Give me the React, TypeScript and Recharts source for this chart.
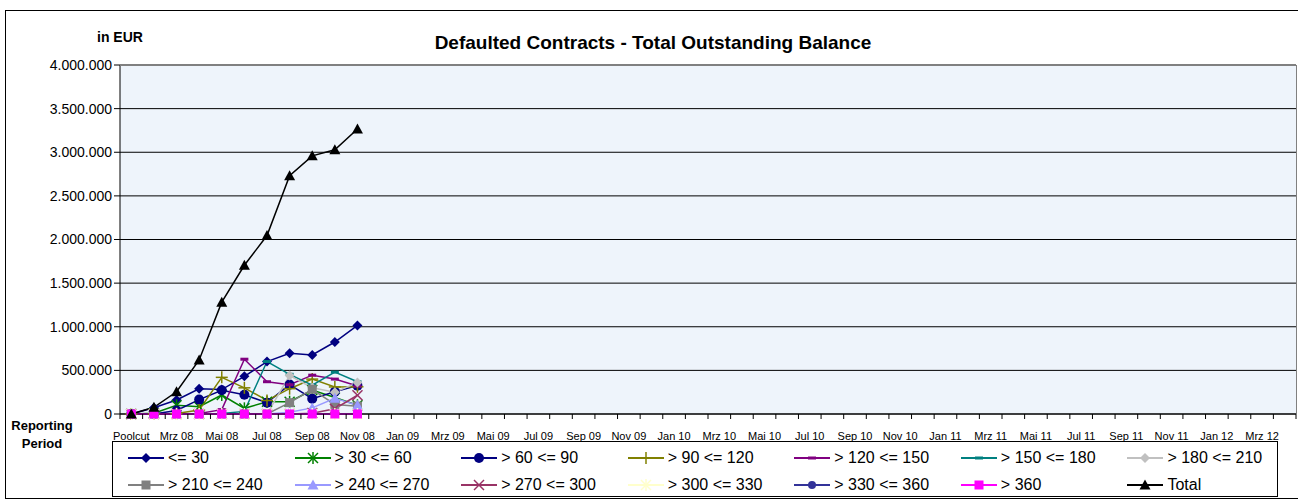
import React from "react";
import { LineChart, Line, XAxis, YAxis, CartesianGrid } from "recharts";

const months = [
  "Poolcut", "Feb 08", "Mrz 08", "Apr 08", "Mai 08", "Jun 08", "Jul 08", "Aug 08", "Sep 08", "Okt 08", "Nov 08", "Dez 08",
  "Jan 09", "Feb 09", "Mrz 09", "Apr 09", "Mai 09", "Jun 09", "Jul 09", "Aug 09", "Sep 09", "Okt 09", "Nov 09", "Dez 09",
  "Jan 10", "Feb 10", "Mrz 10", "Apr 10", "Mai 10", "Jun 10", "Jul 10", "Aug 10", "Sep 10", "Okt 10", "Nov 10", "Dez 10",
  "Jan 11", "Feb 11", "Mrz 11", "Apr 11", "Mai 11", "Jun 11", "Jul 11", "Aug 11", "Sep 11", "Okt 11", "Nov 11", "Dez 11",
  "Jan 12", "Feb 12", "Mrz 12", "Apr 12",
];

// outstanding balance per bucket (days past due), Poolcut .. Nov 08
const upTo30 = [0, 72000, 161000, 289000, 280000, 432000, 601000, 696000, 677000, 825000, 1015000];
const d30to60 = [0, 8000, 100000, 84000, 218000, 65000, 141000, 141000, 275000, 190000, 100000];
const d60to90 = [0, 0, 40000, 165000, 272000, 220000, 130000, 337000, 176000, 256000, 325000];
const d90to120 = [0, 0, 5000, 46000, 420000, 300000, 155000, 290000, 400000, 310000, 312000];
const d120to150 = [0, 0, 0, 5000, 50000, 628000, 370000, 335000, 445000, 400000, 320000];
const d150to180 = [0, 0, 0, 0, 5000, 30000, 601000, 455000, 330000, 480000, 370000];
const d180to210 = [0, 0, 0, 0, 0, 0, 0, 440000, 300000, 250000, 360000];
const d210to240 = [0, 0, 0, 0, 0, 0, 0, 130000, 283000, 110000, 90000];
const d240to270 = [0, 0, 0, 0, 0, 0, 0, 20000, 70000, 180000, 100000];
const d270to300 = [0, 0, 0, 0, 0, 0, 0, 0, 10000, 60000, 215000];
const d300to330 = [0, 0, 0, 0, 0, 0, 0, 0, 0, 0, 0];
const d330to360 = [0, 0, 0, 0, 0, 0, 0, 0, 0, 0, 0];
const over360 = [0, 0, 0, 0, 0, 0, 0, 0, 0, 0, 0];
const total = [0, 77000, 255000, 620000, 1282000, 1705000, 2045000, 2731000, 2959000, 3028000, 3266000];

const yTicks = [0, 500000, 1000000, 1500000, 2000000, 2500000, 3000000, 3500000, 4000000];

type Shape = "diamond" | "star" | "circle" | "bigcircle" | "plus" | "dash" | "square" | "triangle" | "x";

const series: { key: string; name: string; values: number[]; color: string; shape: Shape }[] = [
  { key: "b1", name: "<= 30", values: upTo30, color: "#000080", shape: "diamond" },
  { key: "b2", name: "> 30 <= 60", values: d30to60, color: "#008000", shape: "star" },
  { key: "b3", name: "> 60 <= 90", values: d60to90, color: "#000080", shape: "bigcircle" },
  { key: "b4", name: "> 90 <= 120", values: d90to120, color: "#808000", shape: "plus" },
  { key: "b5", name: "> 120 <= 150", values: d120to150, color: "#800080", shape: "dash" },
  { key: "b6", name: "> 150 <= 180", values: d150to180, color: "#008080", shape: "dash" },
  { key: "b7", name: "> 180 <= 210", values: d180to210, color: "#C0C0C0", shape: "diamond" },
  { key: "b8", name: "> 210 <= 240", values: d210to240, color: "#808080", shape: "square" },
  { key: "b9", name: "> 240 <= 270", values: d240to270, color: "#9999FF", shape: "triangle" },
  { key: "b10", name: "> 270 <= 300", values: d270to300, color: "#993366", shape: "x" },
  { key: "b11", name: "> 300 <= 330", values: d300to330, color: "#FFFFCC", shape: "star" },
  { key: "b12", name: "> 330 <= 360", values: d330to360, color: "#333399", shape: "circle" },
  { key: "b13", name: "> 360", values: over360, color: "#FF00FF", shape: "square" },
  { key: "total", name: "Total", values: total, color: "#000000", shape: "triangle" },
];

const data = months.map((m, i) => {
  const row: Record<string, string | number | null> = { month: m };
  series.forEach((s) => {
    row[s.key] = i < s.values.length ? s.values[i] : null;
  });
  return row;
});

const W = 1298;
const H = 504;
const PLOT_LEFT = 120;
const PLOT_TOP = 65;
const PLOT_RIGHT = 1296;
const PLOT_BOTTOM = 414;
const BAND = (PLOT_RIGHT - PLOT_LEFT) / months.length;
const FONT = "'Liberation Sans', Arial, sans-serif";

function Marker({ shape, color, cx, cy }: { shape: Shape; color: string; cx: number; cy: number }) {
  switch (shape) {
    case "diamond":
      return <polygon points={`${cx},${cy - 5} ${cx + 5},${cy} ${cx},${cy + 5} ${cx - 5},${cy}`} fill={color} />;
    case "circle":
      return <circle cx={cx} cy={cy} r={4} fill={color} />;
    case "bigcircle":
      return <circle cx={cx} cy={cy} r={5} fill={color} />;
    case "square":
      return <rect x={cx - 4.5} y={cy - 4.5} width={9} height={9} fill={color} />;
    case "triangle":
      return <polygon points={`${cx},${cy - 5.5} ${cx + 5.5},${cy + 4.5} ${cx - 5.5},${cy + 4.5}`} fill={color} />;
    case "plus":
      return (
        <g stroke={color} strokeWidth={1.5}>
          <line x1={cx - 6} x2={cx + 6} y1={cy} y2={cy} />
          <line x1={cx} x2={cx} y1={cy - 6} y2={cy + 6} />
        </g>
      );
    case "x":
      return (
        <g stroke={color} strokeWidth={1.5}>
          <line x1={cx - 5} x2={cx + 5} y1={cy - 5} y2={cy + 5} />
          <line x1={cx - 5} x2={cx + 5} y1={cy + 5} y2={cy - 5} />
        </g>
      );
    case "star":
      return (
        <g stroke={color} strokeWidth={1.5}>
          <line x1={cx - 5} x2={cx + 5} y1={cy - 5} y2={cy + 5} />
          <line x1={cx - 5} x2={cx + 5} y1={cy + 5} y2={cy - 5} />
          <line x1={cx} x2={cx} y1={cy - 6} y2={cy + 6} />
        </g>
      );
    case "dash":
      return <line x1={cx - 4} x2={cx + 4} y1={cy} y2={cy} stroke={color} strokeWidth={3} />;
  }
  return null;
}

function XTick(props: any) {
  const { x, payload, index } = props;
  const left = x - BAND / 2;
  return (
    <g>
      <line x1={left} x2={left} y1={PLOT_BOTTOM} y2={PLOT_BOTTOM + 5} stroke="#000" />
      {index === months.length - 1 && (
        <line x1={x + BAND / 2} x2={x + BAND / 2} y1={PLOT_BOTTOM} y2={PLOT_BOTTOM + 5} stroke="#000" />
      )}
      {index % 2 === 0 && (
        <text x={x} y={PLOT_BOTTOM + 26} textAnchor="middle" fontSize={11} fontFamily={FONT} fill="#000">
          {payload.value}
        </text>
      )}
    </g>
  );
}

const fmt = (v: number) => String(v).replace(/\B(?=(\d{3})+(?!\d))/g, ".");

function Legend() {
  const colW = 1166 / 7;
  return (
    <div
      style={{
        position: "absolute",
        left: 112,
        top: 441,
        width: 1166,
        height: 56,
        border: "1px solid #000",
        boxSizing: "border-box",
        fontFamily: FONT,
        fontSize: 16,
      }}
    >
      {series.map((s, i) => {
        const col = i % 7;
        const row = Math.floor(i / 7);
        return (
          <div
            key={s.key}
            style={{
              position: "absolute",
              left: 15 + col * colW,
              top: 7 + row * 27,
              height: 18,
              display: "flex",
              alignItems: "center",
              whiteSpace: "nowrap",
            }}
          >
            <svg width={36} height={14} style={{ marginRight: 4 }}>
              <line x1={0} x2={36} y1={7} y2={7} stroke={s.color} strokeWidth={2} />
              <Marker shape={s.shape} color={s.color} cx={18} cy={7} />
            </svg>
            <span>{s.name}</span>
          </div>
        );
      })}
    </div>
  );
}

export default function App() {
  return (
    <div style={{ position: "absolute", left: 0, top: 0, width: W, height: H, background: "#fff", overflow: "hidden" }}>
      <div
        style={{
          position: "absolute",
          left: 5,
          top: 10,
          width: 1310,
          height: 489,
          border: "1px solid #000",
          boxSizing: "border-box",
        }}
      />
      <LineChart
        width={W}
        height={H}
        data={data}
        margin={{ top: PLOT_TOP, right: W - PLOT_RIGHT, bottom: H - PLOT_BOTTOM - 30, left: 0 }}
        style={{ position: "absolute", left: 0, top: 0 }}
      >
        <CartesianGrid vertical={false} stroke="#000" fill="#EEF4FB" fillOpacity={1} />
        <XAxis
          dataKey="month"
          scale="band"
          interval={0}
          height={30}
          tickLine={false}
          axisLine={{ stroke: "#000" }}
          tick={<XTick />}
        />
        <YAxis
          width={PLOT_LEFT}
          domain={[0, 4000000]}
          ticks={yTicks}
          tickFormatter={fmt}
          tickSize={6}
          tickMargin={2}
          axisLine={{ stroke: "#000" }}
          tickLine={{ stroke: "#000" }}
          tick={{ fontSize: 14, fill: "#000", fontFamily: FONT }}
        />
        {series.map((s) => (
          <Line
            key={s.key}
            dataKey={s.key}
            name={s.name}
            stroke={s.color}
            strokeWidth={1.5}
            isAnimationActive={false}
            connectNulls={false}
            dot={(p: any) =>
              p.cy == null || p.cx == null ? (
                <g key={`${s.key}-${p.index}`} />
              ) : (
                <Marker key={`${s.key}-${p.index}`} shape={s.shape} color={s.color} cx={p.cx} cy={p.cy} />
              )
            }
            activeDot={false}
          />
        ))}
      </LineChart>
      <div
        style={{
          position: "absolute",
          left: PLOT_LEFT,
          top: PLOT_TOP,
          width: PLOT_RIGHT - PLOT_LEFT + 1,
          height: PLOT_BOTTOM - PLOT_TOP,
          borderTop: "1px solid #808080",
          borderRight: "1px solid #808080",
          boxSizing: "border-box",
          pointerEvents: "none",
        }}
      />
      <div style={{ position: "absolute", left: 97, top: 29, fontFamily: FONT, fontWeight: "bold", fontSize: 14 }}>
        in EUR
      </div>
      <div
        style={{
          position: "absolute",
          left: 0,
          width: 1306,
          top: 32,
          textAlign: "center",
          fontFamily: FONT,
          fontWeight: "bold",
          fontSize: 19,
        }}
      >
        Defaulted Contracts - Total Outstanding Balance
      </div>
      <div
        style={{
          position: "absolute",
          left: 2,
          width: 80,
          top: 417,
          textAlign: "center",
          fontFamily: FONT,
          fontWeight: "bold",
          fontSize: 13,
          lineHeight: "18px",
        }}
      >
        Reporting
        <br />
        Period
      </div>
      <Legend />
    </div>
  );
}
